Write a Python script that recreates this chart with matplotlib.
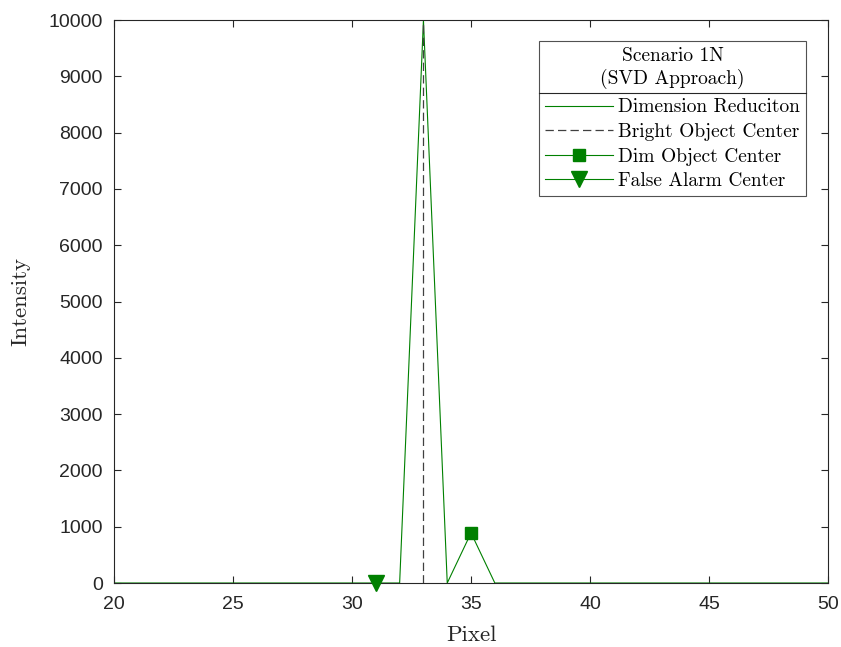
import matplotlib
matplotlib.use("Agg")
import matplotlib.pyplot as plt
from matplotlib.lines import Line2D
import numpy as np

# dimension reduction output per pixel (only the visible window)
pixels = np.arange(20, 51)
intensity = np.zeros(len(pixels))
intensity[pixels == 33] = 10000
intensity[pixels == 35] = 890

bright_x = [33, 33]
bright_y = [0, 10000]
dim_x, dim_y = [35], [890]
false_x, false_y = [31], [0]

legend_title = "Scenario 1N\n(SVD Approach)"
labels = ["Dimension Reduciton", "Bright Object Center",
          "Dim Object Center", "False Alarm Center"]

green = (0, 0.5, 0)
dark = "#262626"
serif = "cmr10"
plt.rcParams["lines.scale_dashes"] = False

fig = plt.figure(figsize=(8.41, 6.47), dpi=100)
ax = fig.add_axes([0.1356, 0.0989, 0.849, 0.8701])

ax.plot(pixels, intensity, color=green, lw=0.8, label=labels[0])
ax.plot(bright_x, bright_y, color=(0.25, 0.25, 0.25), lw=0.9,
        linestyle=(0, (6, 3)), label=labels[1])
ax.plot(dim_x, dim_y, color=green, lw=0.8, marker="s", ms=8, label=labels[2])
ax.plot(false_x, false_y, color=green, lw=0.8, marker="v", ms=12,
        label=labels[3], clip_on=False, zorder=5)

ax.set_xlim(20, 50)
ax.set_ylim(0, 10000)
ax.set_xticks(np.arange(20, 51, 5))
ax.set_yticks(np.arange(0, 10001, 1000))
ax.tick_params(direction="in", top=True, right=True, length=5,
               labelsize=14, colors=dark)
ax.tick_params(axis="x", pad=9)
ax.tick_params(axis="y", pad=8)
for lab in ax.get_xticklabels() + ax.get_yticklabels():
    lab.set_fontfamily("Liberation Sans")
for s in ax.spines.values():
    s.set_color(dark)
    s.set_linewidth(0.8)

ax.set_xlabel("Pixel", fontfamily=serif, fontsize=16.5, color=dark, labelpad=9)
ax.set_ylabel("Intensity", fontfamily=serif, fontsize=16.5, color=dark, labelpad=13)

leg = ax.legend(title=legend_title, loc="upper right",
                bbox_to_anchor=(0.969, 0.9627), borderaxespad=0,
                prop={"family": serif, "size": 14},
                frameon=True, fancybox=False, edgecolor=dark,
                handlelength=3.5, handletextpad=0.25, borderpad=0.3,
                labelspacing=0.34)
leg.get_title().set_fontfamily(serif)
leg.get_title().set_fontsize(14)
leg.get_title().set_multialignment("center")
leg.get_title().set_linespacing(1.25)
leg.get_frame().set_linewidth(0.8)
leg._legend_box.sep = 7

# separator line under the legend title
fig.canvas.draw()
fb = leg.get_frame().get_window_extent()
tb = leg.get_title().get_window_extent()
inv = fig.transFigure.inverted()
y_sep = tb.y0 - 4
(x0, y0), (x1, _) = inv.transform([(fb.x0, y_sep), (fb.x1, y_sep)])
fig.add_artist(Line2D([x0, x1], [y0, y0], color=dark, lw=0.8,
                      transform=fig.transFigure))

fig.savefig("out.png", dpi=100)
